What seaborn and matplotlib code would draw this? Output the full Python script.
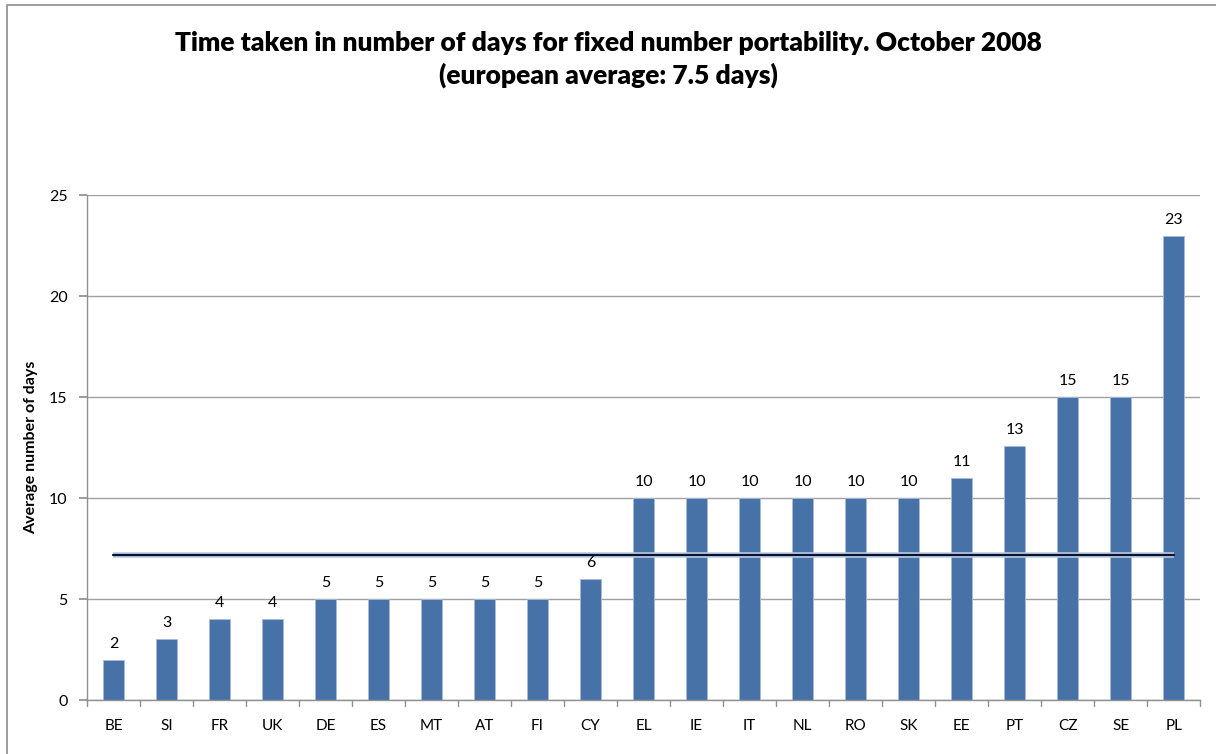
import numpy as np
import pandas as pd
import matplotlib
matplotlib.use("Agg")
import matplotlib.pyplot as plt
import seaborn as sns
from matplotlib.patches import Rectangle

# datos
countries = ["BE", "SI", "FR", "UK", "DE", "ES", "MT", "AT", "FI", "CY", "EL",
             "IE", "IT", "NL", "RO", "SK", "EE", "PT", "CZ", "SE", "PL"]
days = [2, 3, 4, 4, 5, 5, 5, 5, 5, 6, 10, 10, 10, 10, 10, 10, 11, 12.6, 15, 15, 23]
labels = ["2", "3", "4", "4", "5", "5", "5", "5", "5", "6", "10", "10", "10",
          "10", "10", "10", "11", "13", "15", "15", "23"]
eu_average = [7.18] * len(countries)

df = pd.DataFrame({"country": countries, "days": days, "avg": eu_average})

sns.set_theme(style="white")
plt.rcParams["font.family"] = ["Lato", "DejaVu Sans"]
plt.rcParams["text.color"] = "black"
plt.rcParams["xtick.color"] = "black"
plt.rcParams["ytick.color"] = "black"
plt.rcParams["axes.labelcolor"] = "black"

fig = plt.figure(figsize=(12.16, 7.54), dpi=100)
ax = fig.add_axes([0.0715, 0.0716, 0.9155, 0.6695])

sns.barplot(data=df, x="country", y="days", color="#4672a8", width=0.4,
            saturation=1, ax=ax, edgecolor="#a9bcd8", linewidth=0.6, zorder=2)

# línea del promedio europeo
ax.plot(np.arange(len(countries)), df["avg"], color="#b9cde4", lw=4,
        solid_capstyle="butt", zorder=3)
ax.plot(np.arange(len(countries)), df["avg"], color="#0d1030", lw=1.6, zorder=4)

for i, (v, t) in enumerate(zip(days, labels)):
    ax.text(i, v + 0.45, t, ha="center", va="bottom", fontsize=11.5)

ax.set_xlim(-0.5, len(countries) - 0.5)
ax.set_ylim(0, 25)
ax.set_yticks([0, 5, 10, 15, 20, 25])
ax.yaxis.grid(True, color="#a0a0a0", lw=1)
ax.set_axisbelow(True)
ax.set_xlabel("")
ax.set_ylabel("Average number of days", fontsize=11.5, fontweight="bold", labelpad=8)
ax.tick_params(axis="y", labelsize=11.5, length=6, left=True, pad=8)
ax.tick_params(axis="x", labelsize=11, length=0, pad=14)
for i in range(len(countries) + 1):
    ax.plot([i - 0.5, i - 0.5], [0, -0.3], color="#909090", lw=1, clip_on=False)

for s in ["top", "right"]:
    ax.spines[s].set_visible(False)
for s in ["left", "bottom"]:
    ax.spines[s].set_color("#909090")
    ax.spines[s].set_linewidth(1)
ax.tick_params(axis="y", color="#909090")

fig.text(0.5, 0.943, "Time taken in number of days for fixed number portability. October 2008",
         ha="center", va="center", fontsize=19, fontweight="heavy")
fig.text(0.5, 0.9, "(european average: 7.5 days)",
         ha="center", va="center", fontsize=19, fontweight="heavy")

# marco del gráfico
fig.patches.append(Rectangle((0.006, -0.01), 1.1, 1.003, transform=fig.transFigure,
                             fill=False, edgecolor="#8c8c8c", lw=1.2))

fig.savefig("out.png", dpi=100)
